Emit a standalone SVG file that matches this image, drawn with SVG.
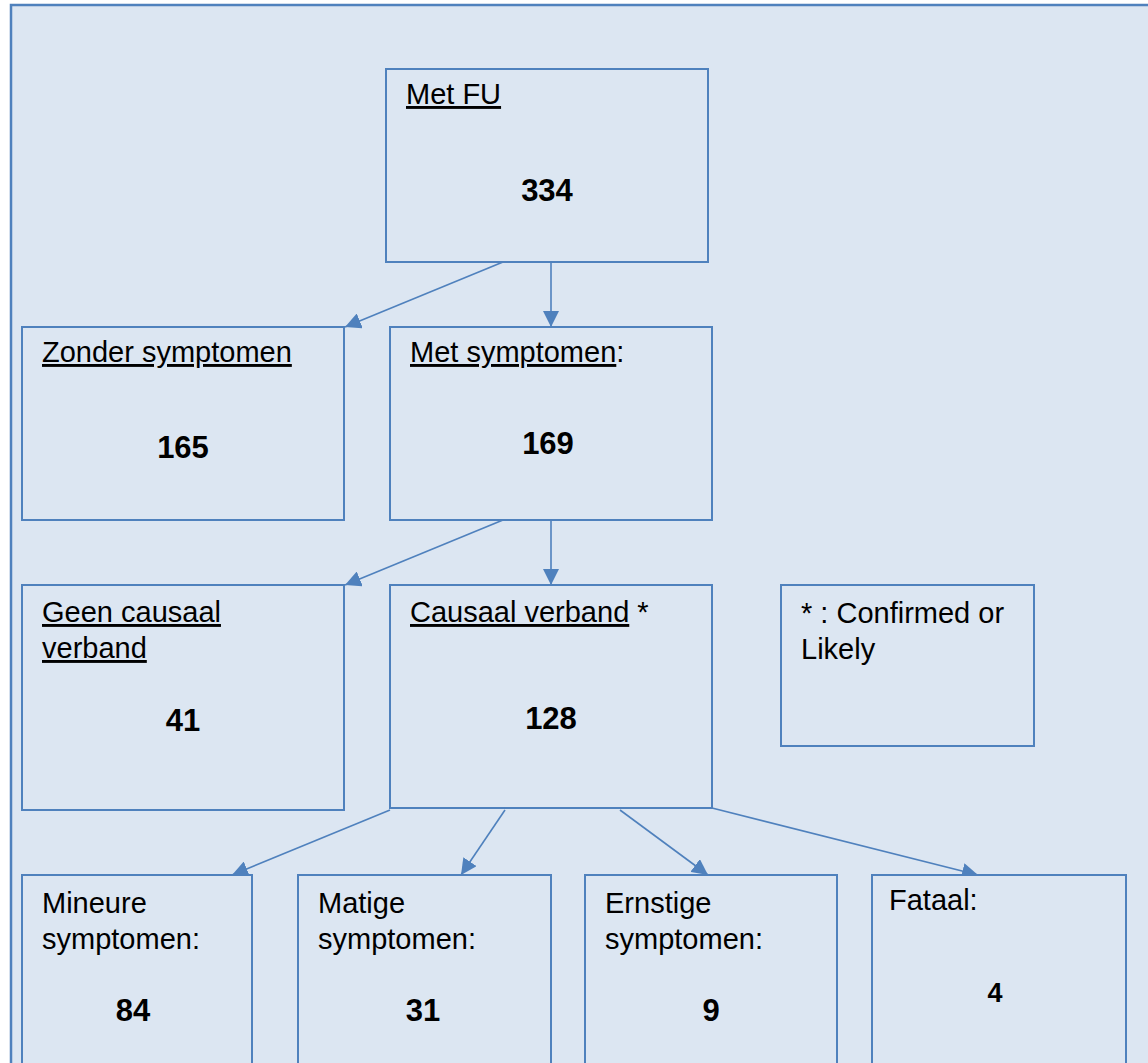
<svg xmlns="http://www.w3.org/2000/svg" width="1148" height="1063" viewBox="0 0 1148 1063">
<style>
.box{fill:#dce6f2;stroke:#4f81bd;stroke-width:2}
.t{font-family:"Liberation Sans",Arial,sans-serif;font-size:29px;fill:#000}
.n{font-family:"Liberation Sans",Arial,sans-serif;font-size:31px;font-weight:bold;fill:#000;text-anchor:middle}
.u{text-decoration:underline}
.c{stroke:#4f81bd;stroke-width:1.6;fill:none;marker-end:url(#ah)}
</style>
<defs>
<marker id="ah" markerUnits="userSpaceOnUse" markerWidth="17" markerHeight="16" refX="16" refY="8" orient="auto">
<path d="M0,0 L16,8 L0,16 z" fill="#4f81bd"/>
</marker>
</defs>
<rect x="11" y="5" width="1150" height="1080" fill="#dce6f2" stroke="#4f81bd" stroke-width="2.5"/>
<g id="connectors">
<line class="c" x1="503" y1="262" x2="345" y2="327"/>
<line class="c" x1="551" y1="262" x2="551" y2="327"/>
<line class="c" x1="503" y1="520" x2="345" y2="585"/>
<line class="c" x1="551" y1="520" x2="551" y2="585"/>
<line class="c" x1="390" y1="810" x2="232" y2="875"/>
<line class="c" x1="505" y1="810" x2="461" y2="875"/>
<line class="c" x1="620" y1="810" x2="708" y2="875"/>
<line class="c" x1="712" y1="808" x2="978" y2="875"/>
</g>
<g id="metfu">
<rect class="box" x="386" y="69" width="322" height="193"/>
<text class="t" x="406" y="104"><tspan class="u">Met FU</tspan></text>
<text class="n" x="547" y="201">334</text>
</g>
<g id="zonder">
<rect class="box" x="22" y="327" width="322" height="193"/>
<text class="t" x="42" y="362"><tspan class="u">Zonder symptomen</tspan></text>
<text class="n" x="183" y="458">165</text>
</g>
<g id="metsymptomen">
<rect class="box" x="390" y="327" width="322" height="193"/>
<text class="t" x="410" y="362"><tspan class="u">Met symptomen</tspan>:</text>
<text class="n" x="548" y="454">169</text>
</g>
<g id="geencausaal">
<rect class="box" x="22" y="585" width="322" height="225"/>
<text class="t" x="42" y="622"><tspan class="u">Geen causaal</tspan></text>
<text class="t" x="42" y="658"><tspan class="u">verband</tspan></text>
<text class="n" x="183" y="731">41</text>
</g>
<g id="causaal">
<rect class="box" x="390" y="585" width="322" height="223"/>
<text class="t" x="410" y="622"><tspan class="u">Causaal verband</tspan> *</text>
<text class="n" x="551" y="729">128</text>
</g>
<g id="legend">
<rect class="box" x="781" y="585" width="253" height="161"/>
<text class="t" x="801" y="623">* : Confirmed or</text>
<text class="t" x="801" y="659">Likely</text>
</g>
<g id="mineure">
<rect class="box" x="22" y="875" width="230" height="200"/>
<text class="t" x="42" y="913">Mineure</text>
<text class="t" x="42" y="949">symptomen:</text>
<text class="n" x="133" y="1021">84</text>
</g>
<g id="matige">
<rect class="box" x="298" y="875" width="253" height="200"/>
<text class="t" x="318" y="913">Matige</text>
<text class="t" x="318" y="949">symptomen:</text>
<text class="n" x="423" y="1021">31</text>
</g>
<g id="ernstige">
<rect class="box" x="585" y="875" width="252" height="200"/>
<text class="t" x="605" y="913">Ernstige</text>
<text class="t" x="605" y="949">symptomen:</text>
<text class="n" x="711" y="1021">9</text>
</g>
<g id="fataal">
<rect class="box" x="872" y="875" width="254" height="200"/>
<text class="t" x="889" y="910">Fataal:</text>
<text class="n" x="995" y="1002" style="font-size:27px">4</text>
</g>
</svg>
